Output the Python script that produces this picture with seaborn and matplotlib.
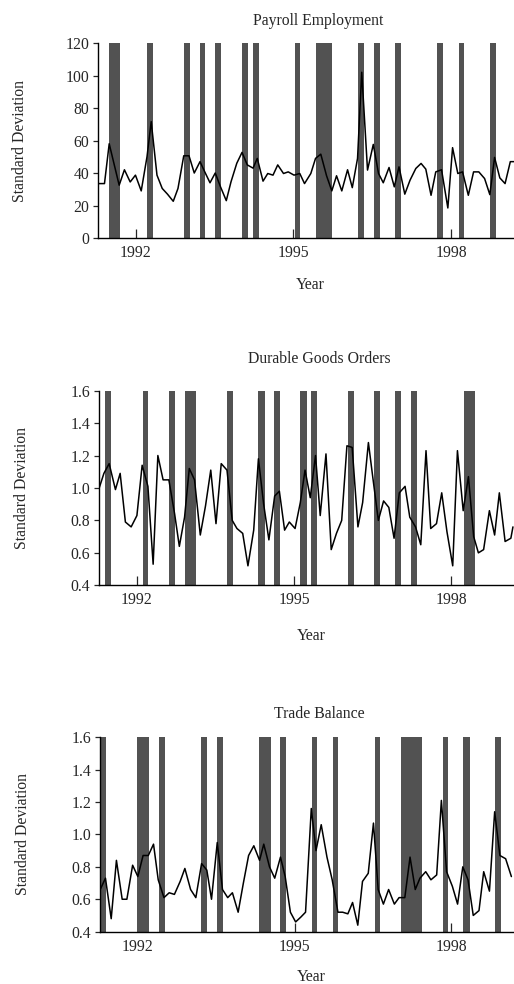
import matplotlib
matplotlib.use("Agg")
import matplotlib.pyplot as plt
import seaborn as sns

# ---- data ----
pay_year = [1991.29, 1991.40, 1991.49, 1991.68, 1991.78, 1991.89, 1991.99, 1992.10, 1992.21, 1992.29,
            1992.40, 1992.50, 1992.60, 1992.71, 1992.80, 1992.91, 1993.01, 1993.11, 1993.22, 1993.31,
            1993.41, 1993.51, 1993.61, 1993.72, 1993.81, 1993.92, 1994.02, 1994.12, 1994.23, 1994.31,
            1994.42, 1994.51, 1994.61, 1994.70, 1994.81, 1994.90, 1995.01, 1995.12, 1995.21, 1995.33,
            1995.42, 1995.52, 1995.63, 1995.73, 1995.82, 1995.92, 1996.03, 1996.12, 1996.22, 1996.30,
            1996.41, 1996.52, 1996.62, 1996.71, 1996.82, 1996.92, 1997.01, 1997.12, 1997.22, 1997.33,
            1997.43, 1997.52, 1997.62, 1997.71, 1997.82, 1997.94, 1998.03, 1998.13, 1998.22, 1998.33,
            1998.43, 1998.53, 1998.64, 1998.74, 1998.83, 1998.93, 1999.03, 1999.13, 1999.22]
pay_sd = [33.5, 33.5, 58, 32.5, 42, 34.5, 38.7, 29, 50, 71.6,
          38.7, 30.5, 27, 22.6, 30.5, 50.6, 50.6, 40, 47, 40.7,
          34, 40, 31.5, 23, 34.6, 46, 52.7, 45, 43, 49,
          35, 39.7, 38.7, 45, 39.7, 40.7, 38.7, 39.7, 33.5, 39.7,
          49, 51.6, 38.3, 29, 38.3, 29, 42, 31, 49, 102,
          41.8, 57.6, 39.7, 34, 43.4, 31.5, 43.8, 27, 35.6, 42.8,
          45.9, 42.4, 26.3, 40.7, 42, 18.5, 55.6, 39.7, 40.7, 26.3,
          40.7, 40.7, 36.6, 26.7, 49.6, 37, 33.5, 47, 47]
pay_band_start = [1991.49, 1992.21, 1992.92, 1993.22, 1993.51, 1994.02, 1994.23, 1995.03,
                  1995.43, 1996.22, 1996.53, 1996.93, 1997.74, 1998.15, 1998.74]
pay_band_end = [1991.70, 1992.32, 1993.02, 1993.32, 1993.62, 1994.13, 1994.34, 1995.12,
                1995.74, 1996.34, 1996.64, 1997.04, 1997.85, 1998.25, 1998.85]

dur_year = [1991.28, 1991.37, 1991.47, 1991.59, 1991.68, 1991.78, 1991.89, 1992.00, 1992.10, 1992.21,
            1992.31, 1992.40, 1992.50, 1992.61, 1992.72, 1992.81, 1992.91, 1993.00, 1993.10, 1993.21,
            1993.31, 1993.41, 1993.51, 1993.61, 1993.72, 1993.82, 1993.91, 1994.02, 1994.12, 1994.23,
            1994.32, 1994.42, 1994.52, 1994.63, 1994.72, 1994.82, 1994.91, 1995.02, 1995.12, 1995.21,
            1995.31, 1995.41, 1995.50, 1995.61, 1995.71, 1995.81, 1995.91, 1996.01, 1996.11, 1996.22,
            1996.31, 1996.42, 1996.51, 1996.61, 1996.71, 1996.81, 1996.91, 1997.01, 1997.12, 1997.21,
            1997.32, 1997.42, 1997.52, 1997.61, 1997.72, 1997.82, 1997.92, 1998.03, 1998.12, 1998.23,
            1998.33, 1998.43, 1998.52, 1998.62, 1998.73, 1998.83, 1998.92, 1999.03, 1999.14, 1999.18]
dur_sd = [1.00, 1.09, 1.15, 0.99, 1.09, 0.79, 0.76, 0.83, 1.14, 1.01,
          0.53, 1.20, 1.05, 1.05, 0.84, 0.64, 0.82, 1.12, 1.05, 0.71,
          0.89, 1.11, 0.78, 1.15, 1.11, 0.80, 0.75, 0.72, 0.52, 0.74,
          1.18, 0.90, 0.68, 0.95, 0.98, 0.74, 0.79, 0.75, 0.91, 1.11,
          0.94, 1.20, 0.83, 1.21, 0.62, 0.72, 0.80, 1.26, 1.25, 0.76,
          0.91, 1.28, 1.05, 0.80, 0.92, 0.88, 0.69, 0.97, 1.01, 0.82,
          0.76, 0.65, 1.23, 0.75, 0.78, 0.97, 0.73, 0.52, 1.23, 0.86,
          1.07, 0.70, 0.60, 0.62, 0.86, 0.71, 0.97, 0.67, 0.69, 0.76]
dur_band_start = [1991.39, 1992.11, 1992.62, 1992.92, 1993.72, 1994.32, 1994.62, 1995.12,
                  1995.33, 1996.03, 1996.53, 1996.93, 1997.23, 1998.24]
dur_band_end = [1991.50, 1992.22, 1992.73, 1993.12, 1993.83, 1994.44, 1994.73, 1995.24,
                1995.43, 1996.14, 1996.64, 1997.04, 1997.34, 1998.45]

trade_year = [1991.28, 1991.38, 1991.49, 1991.59, 1991.70, 1991.79, 1991.90, 1992.00, 1992.10, 1992.20,
              1992.30, 1992.39, 1992.50, 1992.60, 1992.70, 1992.81, 1992.90, 1993.01, 1993.11, 1993.22,
              1993.32, 1993.41, 1993.52, 1993.62, 1993.72, 1993.81, 1993.92, 1994.02, 1994.12, 1994.22,
              1994.33, 1994.41, 1994.52, 1994.62, 1994.73, 1994.82, 1994.92, 1995.02, 1995.12, 1995.21,
              1995.32, 1995.41, 1995.51, 1995.62, 1995.72, 1995.83, 1995.92, 1996.02, 1996.11, 1996.21,
              1996.30, 1996.41, 1996.51, 1996.60, 1996.70, 1996.80, 1996.91, 1997.00, 1997.11, 1997.21,
              1997.31, 1997.40, 1997.51, 1997.61, 1997.72, 1997.81, 1997.91, 1998.02, 1998.12, 1998.22,
              1998.32, 1998.42, 1998.53, 1998.62, 1998.73, 1998.83, 1998.93, 1999.04, 1999.15]
trade_sd = [0.66, 0.73, 0.48, 0.84, 0.60, 0.60, 0.81, 0.74, 0.87, 0.87,
            0.94, 0.72, 0.61, 0.64, 0.63, 0.71, 0.79, 0.66, 0.61, 0.82,
            0.78, 0.60, 0.95, 0.66, 0.61, 0.64, 0.52, 0.70, 0.87, 0.93,
            0.84, 0.94, 0.80, 0.73, 0.86, 0.74, 0.52, 0.46, 0.49, 0.52,
            1.16, 0.90, 1.06, 0.86, 0.72, 0.52, 0.52, 0.51, 0.58, 0.44,
            0.71, 0.76, 1.07, 0.66, 0.57, 0.66, 0.57, 0.61, 0.61, 0.86,
            0.66, 0.73, 0.77, 0.72, 0.75, 1.21, 0.77, 0.68, 0.57, 0.80,
            0.72, 0.50, 0.53, 0.77, 0.65, 1.14, 0.87, 0.85, 0.74]
trade_band_start = [1991.28, 1991.99, 1992.41, 1993.21, 1993.52, 1994.32, 1994.73, 1995.33,
                    1995.73, 1996.53, 1997.03, 1997.84, 1998.23, 1998.83]
trade_band_end = [1991.40, 1992.22, 1992.52, 1993.33, 1993.63, 1994.54, 1994.84, 1995.43,
                  1995.83, 1996.63, 1997.44, 1997.94, 1998.35, 1998.95]

titles = ["Payroll Employment", "Durable Goods Orders", "Trade Balance"]
year_ticks = [1992, 1995, 1998]
pay_yticks = [0, 20, 40, 60, 80, 100, 120]
sd_yticks = [0.4, 0.6, 0.8, 1.0, 1.2, 1.4, 1.6]

sns.set_style("ticks")
plt.rcParams["font.family"] = ["Liberation Serif", "DejaVu Serif"]
plt.rcParams["font.size"] = 11.3

fig = plt.figure(figsize=(5.14, 9.84), dpi=100)

# each panel: data, y ticks, label format, axes rect, x-label offset, title pad
panels = [
    (pay_year, pay_sd, pay_band_start, pay_band_end, pay_yticks, "{:.0f}",
     [0.191, 0.7581, 0.809, 0.1982], -0.20, 13),
    (dur_year, dur_sd, dur_band_start, dur_band_end, sd_yticks, "{:.1f}",
     [0.193, 0.4052, 0.807, 0.1978], -0.22, 20),
    (trade_year, trade_sd, trade_band_start, trade_band_end, sd_yticks, "{:.1f}",
     [0.195, 0.0532, 0.805, 0.1976], -0.19, 14),
]

for (yr, sd, b0, b1, yt, fmt, rect, xlab_y, tpad), title in zip(panels, titles):
    ax = fig.add_axes(rect)
    lo, hi = yt[0], yt[-1]
    # shaded months
    ax.bar(b0, [hi - lo] * len(b0), width=[e - s for s, e in zip(b0, b1)],
           bottom=lo, align="edge", color="#525252", linewidth=0, zorder=1)
    sns.lineplot(x=yr, y=sd, ax=ax, color="black", linewidth=1.1,
                 estimator=None, sort=False, zorder=3)
    ax.set_xlim(1991.28, 1999.2)
    ax.set_ylim(lo, hi)
    ax.set_xticks(year_ticks)
    ax.set_xticklabels([str(t) for t in year_ticks])
    ax.set_yticks(yt)
    ax.set_yticklabels([fmt.format(v) for v in yt])
    ax.tick_params(axis="x", direction="in", length=6.5, width=0.9, pad=5, labelsize=11.3)
    ax.tick_params(axis="y", direction="out", length=3.5, width=0.9, pad=3, labelsize=11.3)
    for s in ["top", "right"]:
        ax.spines[s].set_visible(False)
    for s in ["left", "bottom"]:
        ax.spines[s].set_color("black")
        ax.spines[s].set_linewidth(1.0)
    ax.set_title(title, fontsize=11.3, x=0.53, pad=tpad)
    ax.set_xlabel("Year", fontsize=11.3)
    ax.xaxis.set_label_coords(0.51, xlab_y)
    ax.set_ylabel("Standard Deviation", fontsize=11.3)
    ax.yaxis.set_label_coords(-0.168, 0.5)

fig.savefig("out.png", dpi=100)
